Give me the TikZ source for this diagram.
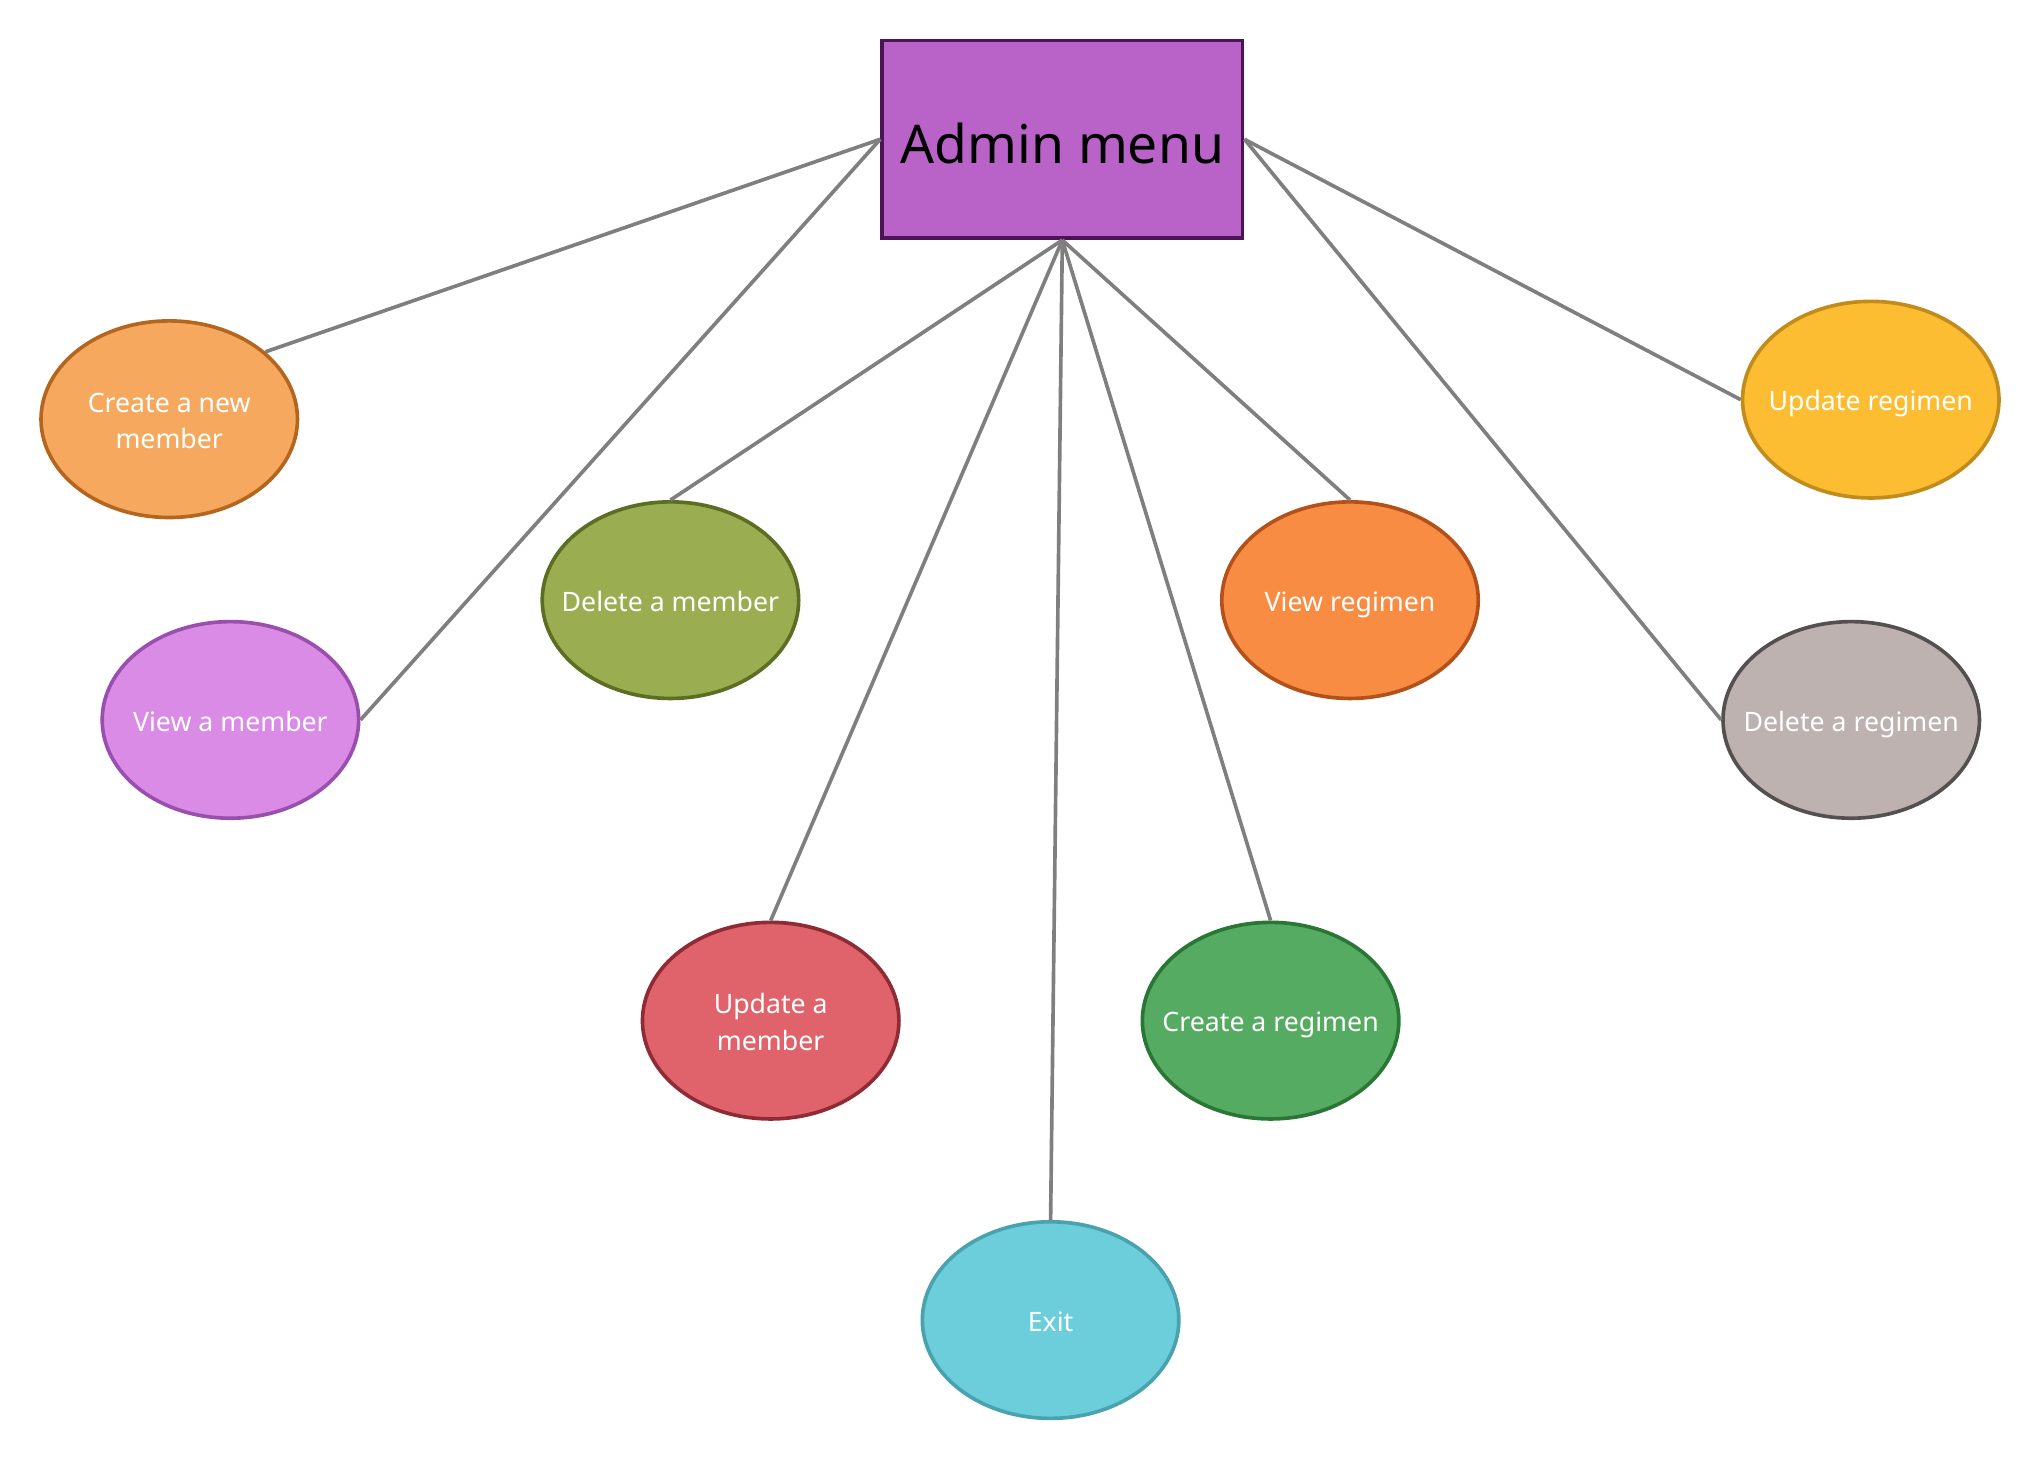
\documentclass[tikz,border=0pt]{standalone}
\usepackage{fontspec}
\setmainfont{Noto Sans}
\usepackage{xcolor}
\usetikzlibrary{shapes.geometric}

\definecolor{menufill}{HTML}{B962C8}
\definecolor{menuline}{HTML}{4C1357}
\definecolor{linkgray}{HTML}{7F7F7F}

% label that does not widen the ellipse
\newcommand{\lbl}[1]{\makebox[0pt]{\raisebox{-3pt}[\height][\depth]{\begin{tabular}{@{}c@{}}#1\end{tabular}}}}

\begin{document}
\begin{tikzpicture}[
    x=1pt, y=-1pt,
    menu/.style={
        rectangle,
        draw=menuline,
        fill=menufill,
        line width=2.8pt,
        inner sep=0pt,
        minimum width=277pt,
        minimum height=152pt,
        font=\fontsize{41}{48}\selectfont
    },
    choice/.style={
        ellipse,
        line width=2.8pt,
        inner sep=0pt,
        minimum width=197pt,
        minimum height=151pt,
        text=white,
        font=\fontsize{20.5}{28}\selectfont
    },
    link/.style={draw=linkgray,line width=2.8pt}
]
    \useasboundingbox (0,0) rectangle (1567,1121);

    % Nodes
    \node[menu] (admin) at (816,107) {\raisebox{-3pt}[\height][\depth]{Admin menu}};

    \node[choice,fill={rgb,255:red,246;green,169;blue,94},draw={rgb,255:red,180;green,102;blue,31}] (newmember) at (130,322) {\lbl{Create a new\\member}};
    \node[choice,fill={rgb,255:red,217;green,139;blue,229},draw={rgb,255:red,154;green,79;blue,174}] (viewmember) at (177,553) {\lbl{View a member}};
    \node[choice,fill={rgb,255:red,155;green,173;blue,81},draw={rgb,255:red,92;green,110;blue,34}] (delmember) at (515,461) {\lbl{Delete a member}};
    \node[choice,fill={rgb,255:red,224;green,99;blue,107},draw={rgb,255:red,143;green,43;blue,52}] (updmember) at (592,784) {\lbl{Update a\\member}};
    \node[choice,fill={rgb,255:red,108;green,206;blue,219},draw={rgb,255:red,74;green,162;blue,174}] (exit) at (807,1014) {\lbl{Exit}};
    \node[choice,fill={rgb,255:red,85;green,171;blue,98},draw={rgb,255:red,42;green,118;blue,52}] (newregimen) at (976,784) {\lbl{Create a regimen}};
    \node[choice,fill={rgb,255:red,249;green,140;blue,67},draw={rgb,255:red,178;green,82;blue,26}] (viewregimen) at (1037,461) {\lbl{View regimen}};
    \node[choice,fill={rgb,255:red,252;green,189;blue,50},draw={rgb,255:red,194;green,140;blue,28}] (updregimen) at (1437,307) {\lbl{Update regimen}};
    \node[choice,fill={rgb,255:red,189;green,178;blue,176},draw={rgb,255:red,85;green,80;blue,80}] (delregimen) at (1422,553) {\lbl{Delete a regimen}};

    % Lines
    \draw[link] (admin.west) -- (newmember.35);
    \draw[link] (admin.west) -- (viewmember.east);
    \draw[link] (admin.south) -- (delmember.north);
    \draw[link] (admin.south) -- (updmember.north);
    \draw[link] (admin.south) -- (exit.north);
    \draw[link] (admin.south) -- (newregimen.north);
    \draw[link] (admin.south) -- (viewregimen.north);
    \draw[link] (admin.east) -- (delregimen.west);
    \draw[link] (admin.east) -- (updregimen.west);
\end{tikzpicture}
\end{document}
